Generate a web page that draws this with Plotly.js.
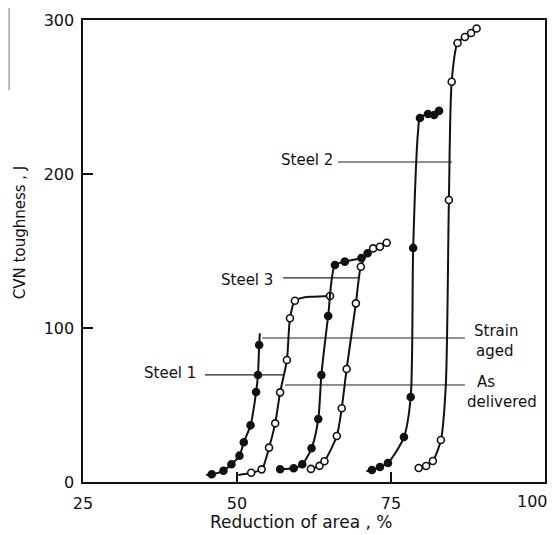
<!DOCTYPE html>
<html>
<head>
<meta charset="utf-8">
<script src="https://cdn.plot.ly/plotly-3.0.1.min.js"></script>
<style>html,body{margin:0;padding:0;background:#fff;}#chart{width:554px;height:535px;}</style>
</head>
<body>
<div id="chart"></div>
<script>
// ---- data (reduction of area %, CVN toughness J); flag 1 = measured point, 0 = curve path only
const steel1SA_x = [45.0, 45.9, 47.8, 49.1, 50.4, 51.1, 52.2, 53.1, 53.4, 53.6, 53.7];
const steel1SA_y = [4.5, 5.0, 7.3, 11.5, 17.1, 25.8, 36.8, 58.4, 69.5, 89.0, 96.6];
const steel1SA_f = [0, 1, 1, 1, 1, 1, 1, 1, 1, 1, 0];

const steel1AD_x = [50.2, 52.3, 54.0, 55.2, 56.2, 57.0, 58.1, 58.6, 59.4, 61.0, 62.4, 65.1];
const steel1AD_y = [4.5, 6.0, 8.2, 22.3, 38.1, 58.2, 79.2, 106.3, 117.7, 120.0, 120.3, 120.8];
const steel1AD_f = [0, 1, 1, 1, 1, 1, 1, 1, 1, 0, 0, 1];

const steel3SA_x = [57.0, 59.2, 60.6, 62.1, 63.2, 63.7, 64.8, 65.9, 67.5, 70.2, 71.2];
const steel3SA_y = [8.3, 8.9, 11.5, 21.9, 40.9, 69.5, 107.8, 140.9, 143.1, 145.5, 148.5];
const steel3SA_f = [1, 1, 1, 1, 1, 1, 1, 1, 1, 1, 1];

const steel3AD_x = [62.0, 63.4, 64.2, 66.2, 67.0, 67.8, 69.3, 70.1, 71.2, 72.1, 73.2, 74.3];
const steel3AD_y = [8.5, 10.5, 13.5, 29.9, 47.9, 73.4, 116.0, 139.8, 148.5, 151.7, 152.8, 155.4];
const steel3AD_f = [1, 1, 1, 1, 1, 1, 1, 1, 0, 1, 1, 1];

const steel2SA_x = [71.0, 71.9, 73.2, 74.5, 77.1, 78.2, 78.6, 79.4, 79.7, 81.0, 82.0, 82.8];
const steel2SA_y = [7.0, 7.8, 9.7, 12.3, 29.2, 55.2, 152.0, 228.0, 236.4, 239.0, 238.3, 241.0];
const steel2SA_f = [0, 1, 1, 1, 1, 1, 1, 0, 1, 1, 1, 1];

const steel2AD_x = [79.5, 80.7, 81.8, 83.1, 83.9, 84.4, 84.85, 85.8, 87.0, 88.0, 88.9];
const steel2AD_y = [9.1, 10.4, 13.6, 27.3, 63.0, 183.1, 259.9, 285.1, 289.0, 291.6, 294.5];
const steel2AD_f = [1, 1, 1, 1, 0, 1, 1, 1, 1, 1, 1];

// label leader lines: [x0, x1, y]
const leadSteel1 = [44.8, 57.5, 69.5];
const leadSteel3 = [57.5, 70.0, 132.5];
const leadSteel2 = [66.4, 84.9, 207.8];
const leadStrainAged = [54.1, 87.0, 93.5];
const leadAsDelivered = [57.8, 87.0, 63.0];

const xTicks = [25, 50, 75, 100];
const yTicks = [0, 100, 200, 300];

// ---- build traces
const FONT = 'DejaVu Sans, sans-serif';
const traces = [];
function addCurve(x, y, f, filled) {
  traces.push({x: x, y: y, mode: 'lines', type: 'scatter', hoverinfo: 'skip',
    line: {color: '#111', width: 2, shape: 'spline', smoothing: 0.7}, showlegend: false});
  const mx = [], my = [];
  for (let i = 0; i < x.length; i++) if (f[i]) { mx.push(x[i]); my.push(y[i]); }
  traces.push({x: mx, y: my, mode: 'markers', type: 'scatter', showlegend: false,
    marker: {symbol: 'circle', size: 7, color: filled ? '#111' : '#fff',
      line: {color: '#111', width: 1.6}}});
}
addCurve(steel1SA_x, steel1SA_y, steel1SA_f, true);
addCurve(steel1AD_x, steel1AD_y, steel1AD_f, false);
addCurve(steel3SA_x, steel3SA_y, steel3SA_f, true);
addCurve(steel3AD_x, steel3AD_y, steel3AD_f, false);
addCurve(steel2SA_x, steel2SA_y, steel2SA_f, true);
addCurve(steel2AD_x, steel2AD_y, steel2AD_f, false);

function lead(l, w) {
  return {type: 'line', xref: 'x', yref: 'y', x0: l[0], x1: l[1], y0: l[2], y1: l[2],
    line: {color: '#222', width: w}, layer: 'below'};
}
const shapes = [lead(leadSteel1, 1.2), lead(leadSteel3, 1.2), lead(leadSteel2, 1.2),
  lead(leadStrainAged, 1), lead(leadAsDelivered, 1),
  {type: 'line', xref: 'paper', yref: 'paper', x0: -0.160, x1: -0.160, y0: 1.026, y1: 0.848,
   line: {color: '#777', width: 1}}];

const lab = (text, x, y, xanchor) => ({text: text, x: x, y: y, xref: 'x', yref: 'y',
  xanchor: xanchor, yanchor: 'middle', showarrow: false, font: {family: FONT, size: 15, color: '#111'}});
const lastX = xTicks[xTicks.length - 1];
const annotations = [
  lab('Steel 1', 43.7, 70.5, 'right'),
  lab('Steel 3', 56.2, 131.2, 'right'),
  lab('Steel 2', 65.9, 209.0, 'right'),
  lab('Strain', 88.2, 98.0, 'left'),
  lab('aged', 88.4, 85.0, 'left'),
  lab('As', 88.6, 65.0, 'left'),
  lab('delivered', 87.0, 52.0, 'left'),
  // last x tick label, right-aligned so it stays inside the picture
  {text: String(lastX), xref: 'paper', yref: 'paper', x: 1.011, y: -0.042,
   xanchor: 'right', yanchor: 'middle', showarrow: false, font: {family: FONT, size: 16, color: '#111'}},
  {text: 'Reduction of area , %', xref: 'paper', yref: 'paper', x: (301 - 83) / 462, y: -0.087,
   xanchor: 'center', yanchor: 'middle', showarrow: false, font: {family: FONT, size: 17, color: '#111'}},
  {text: 'CVN toughness , J', xref: 'paper', yref: 'paper', x: -0.136, y: 0.539, textangle: -90,
   xanchor: 'center', yanchor: 'middle', showarrow: false, font: {family: FONT, size: 15, color: '#111'}}
];

const axisCommon = {showgrid: false, zeroline: false, showline: true, mirror: true,
  linecolor: '#111', linewidth: 1.6, ticks: 'inside', ticklen: 10, tickwidth: 1.5, tickcolor: '#111',
  tickfont: {family: FONT, size: 16, color: '#111'}, fixedrange: true};

const layout = {
  width: 554, height: 535,
  margin: {l: 83, r: 9, t: 20, b: 53},
  paper_bgcolor: '#fff', plot_bgcolor: '#fff',
  showlegend: false,
  xaxis: Object.assign({}, axisCommon, {range: [25, 100], tickmode: 'array', tickvals: xTicks,
    ticktext: xTicks.map(v => v === lastX ? '' : String(v)), ticklabelstandoff: 6}),
  yaxis: Object.assign({}, axisCommon, {range: [0, 300], tickmode: 'array', tickvals: yTicks,
    ticktext: yTicks.map(String), ticklabelstandoff: 4}),
  shapes: shapes,
  annotations: annotations
};
Plotly.newPlot('chart', traces, layout, {displayModeBar: false, staticPlot: true});
</script>
</body>
</html>
